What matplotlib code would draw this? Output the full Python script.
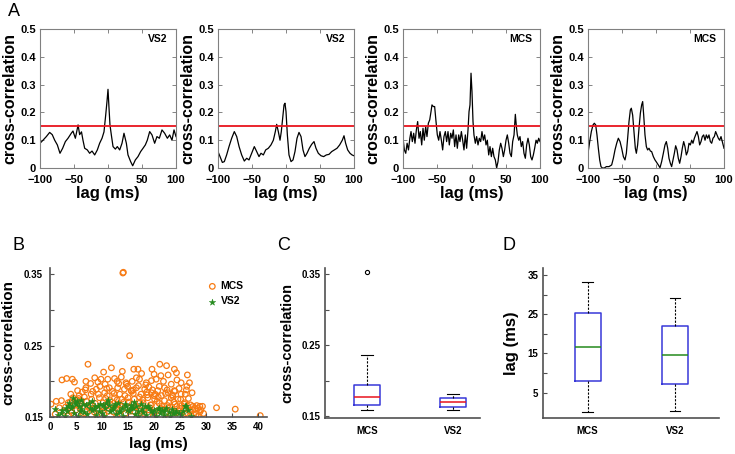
import matplotlib
matplotlib.use('Agg')
import matplotlib.pyplot as plt
import numpy as np

plt.rcParams['font.family'] = ['Liberation Sans', 'DejaVu Sans']
plt.rcParams['font.weight'] = 'bold'
plt.rcParams['axes.labelweight'] = 'bold'

# ---- data: panel A cross-correlograms ----
a1_lag = [-100, -95.6, -90.7, -85.8, -82, -78.4, -74.5, -70.6, -66.7, -62.7,
          -58.8, -54, -51.5, -48, -44, -41.7, -39, -36.8, -34.3, -30.4,
          -27, -23.5, -19.6, -15.7, -12.3, -8.8, -5.9, -3.4, -1.5, 0,
          1.5, 2.9, 4.9, 7.4, 10.8, 13.7, 17.2, 20.6, 23.5, 27,
          29.4, 33.3, 36.3, 40.2, 44.1, 48, 51.5, 54.9, 57.8, 61.3,
          64.7, 68.6, 72, 75.5, 79.4, 83.3, 87.3, 90.7, 94.1, 97.1, 100]
a1_cc = [0.089, 0.10, 0.113, 0.128, 0.12, 0.10, 0.083, 0.053, 0.071, 0.095,
         0.107, 0.125, 0.133, 0.107, 0.155, 0.12, 0.13, 0.10, 0.071, 0.065,
         0.053, 0.061, 0.047, 0.065, 0.089, 0.107, 0.13, 0.19, 0.239, 0.283,
         0.215, 0.155, 0.119, 0.077, 0.068, 0.077, 0.065, 0.089, 0.125, 0.089,
         0.047, 0.023, 0.008, 0.029, 0.041, 0.059, 0.071, 0.083, 0.10, 0.131,
         0.119, 0.089, 0.113, 0.107, 0.137, 0.125, 0.107, 0.119, 0.10, 0.137, 0.113]

a2_lag = [-100, -97, -93.6, -90.7, -87.3, -83.8, -79.9, -76, -72.5, -69,
          -65.2, -61.3, -57.8, -54.4, -50.5, -46.6, -43.1, -39.7, -36.8, -33.3,
          -29.9, -26, -22.1, -18.6, -15.7, -13.7, -11.3, -8.8, -6.9, -4.9,
          -2.9, -1.5, 0, 2, 4.4, 7.4, 10.3, 13.2, 16.2, 19.1,
          22.1, 25, 27.9, 30.9, 34.3, 37.7, 41.2, 44.1, 47.5, 51.5,
          55.4, 59.3, 63.2, 67.2, 71.1, 75, 78.9, 82.8, 85.3, 87.7,
          90.7, 94.1, 97.1, 100]
a2_cc = [0.059, 0.041, 0.02, 0.023, 0.047, 0.077, 0.107, 0.131, 0.113, 0.077,
         0.047, 0.025, 0.035, 0.029, 0.053, 0.077, 0.059, 0.041, 0.053, 0.047,
         0.065, 0.071, 0.083, 0.10, 0.131, 0.157, 0.131, 0.10, 0.131, 0.179,
         0.227, 0.233, 0.203, 0.119, 0.047, 0.023, 0.029, 0.059, 0.107, 0.128,
         0.113, 0.065, 0.041, 0.053, 0.071, 0.085, 0.095, 0.071, 0.053, 0.044,
         0.041, 0.047, 0.049, 0.059, 0.065, 0.071, 0.083, 0.10, 0.116, 0.089,
         0.065, 0.053, 0.047, 0.044]

a3_lag = [-100, -98, -96, -94, -92, -90, -88.3, -86.4, -84.4, -82.5,
          -80.5, -78.6, -76.6, -74.7, -72.7, -70.8, -68.9, -66.9, -65, -63,
          -61, -59.1, -57.7, -55.7, -53.8, -51.8, -49.9, -47.9, -46, -44,
          -42.1, -40.2, -38.2, -36.3, -34.3, -32.4, -30.4, -28.5, -26.5, -24.6,
          -22.6, -20.7, -18.7, -16.8, -14.8, -12.9, -11, -9, -7.1, -5.1,
          -3.6, -2.2, -0.7, 0.7, 2.2, 3.6, 5.6, 7.5, 9.5, 11.4,
          13.4, 15.3, 17.3, 19.2, 21.2, 23.1, 25.1, 27, 29, 30.9,
          32.8, 34.8, 36.7, 38.7, 40.6, 42.6, 44.5, 46.5, 48.4, 50.4,
          52.3, 54.3, 56.2, 58.2, 60.1, 62.1, 64, 65.5, 66.9, 68.9,
          70.8, 72.7, 74.7, 76.6, 78.6, 80.5, 82.5, 84.4, 86.4, 88.3,
          90.3, 92.2, 94.2, 96.1, 98.1, 100]
a3_cc = [0.107, 0.065, 0.053, 0.089, 0.065, 0.107, 0.131, 0.095, 0.125, 0.089,
         0.137, 0.167, 0.107, 0.131, 0.083, 0.143, 0.10, 0.149, 0.113, 0.161,
         0.173, 0.203, 0.227, 0.221, 0.221, 0.167, 0.119, 0.10, 0.131, 0.10,
         0.065, 0.113, 0.131, 0.095, 0.131, 0.083, 0.125, 0.107, 0.137, 0.077,
         0.119, 0.071, 0.119, 0.095, 0.131, 0.10, 0.065, 0.119, 0.071, 0.137,
         0.203, 0.227, 0.341, 0.275, 0.167, 0.119, 0.089, 0.113, 0.083, 0.107,
         0.095, 0.131, 0.10, 0.119, 0.083, 0.10, 0.047, 0.077, 0.041, 0.071,
         0.041, 0.029, 0.0, 0.023, 0.065, 0.089, 0.071, 0.041, 0.065, 0.10,
         0.119, 0.089, 0.053, 0.041, 0.095, 0.119, 0.193, 0.149, 0.119, 0.10,
         0.113, 0.077, 0.095, 0.053, 0.035, 0.083, 0.107, 0.083, 0.041, 0.029,
         0.047, 0.071, 0.10, 0.089, 0.107, 0.095]

a4_lag = [-100, -97.5, -95.1, -92.6, -90.7, -88.7, -86.8, -84.8, -82.8, -80.9,
          -78.9, -76, -73, -69.1, -65.2, -62.7, -60.3, -57.8, -55.4, -52.9,
          -50.5, -48, -45.6, -43.6, -41.7, -39.7, -37.7, -36.3, -34.3, -32.4,
          -30.4, -28.9, -27, -25, -23, -21.1, -19.6, -18.1, -16.2, -14.2,
          -12.3, -10.3, -8.3, -6.4, -3.9, -1.5, 1, 3.4, 5.9, 8.3,
          10.8, 13.2, 15.2, 17.2, 19.1, 21.1, 23, 25, 27, 28.9,
          30.9, 32.8, 34.8, 36.8, 38.7, 40.7, 42.6, 44.6, 46.6, 48.5,
          50.5, 52.5, 54.4, 56.4, 58.3, 60.3, 62.3, 64.2, 66.2, 68.1,
          70.1, 72.1, 74, 76, 77.9, 79.9, 81.9, 83.8, 85.8, 87.7,
          89.7, 91.7, 93.6, 95.6, 97.5, 100]
a4_cc = [0.053, 0.095, 0.131, 0.155, 0.161, 0.155, 0.119, 0.071, 0.029, 0.005,
         0.0, 0.0, 0.005, 0.005, 0.011, 0.035, 0.065, 0.089, 0.107, 0.095,
         0.071, 0.041, 0.029, 0.053, 0.107, 0.167, 0.209, 0.215, 0.19, 0.131,
         0.071, 0.053, 0.083, 0.143, 0.197, 0.227, 0.239, 0.19, 0.119, 0.077,
         0.065, 0.071, 0.061, 0.059, 0.041, 0.029, 0.02, 0.011, 0.001, 0.023,
         0.053, 0.083, 0.095, 0.071, 0.035, 0.017, 0.005, 0.029, 0.053, 0.08,
         0.065, 0.035, 0.017, 0.041, 0.071, 0.095, 0.077, 0.047, 0.059, 0.089,
         0.083, 0.10, 0.089, 0.107, 0.119, 0.131, 0.113, 0.083, 0.095, 0.113,
         0.119, 0.10, 0.119, 0.107, 0.119, 0.095, 0.089, 0.107, 0.113, 0.131,
         0.119, 0.107, 0.10, 0.113, 0.095, 0.071]

a_labels = ['VS2', 'VS2', 'MCS', 'MCS']
threshold = 0.15

# ---- data: panel B scatter (lag ms, peak cross-correlation) ----
mcs_lag = [14.0, 14.1, 15.3, 7.3, 21.1, 22.4, 11.8, 19.6, 16.1, 16.9, 23.9, 24.3, 13.9, 10.3,
           21.3, 22.7, 26.4, 17.6, 20.0,
           2.3, 3.2, 4.3, 4.7, 6.9, 8.6, 9.8, 11.1, 12.4, 13.7, 14.6, 17.2, 18.5, 19.5, 20.4,
           23.3, 25.2, 26.8, 7.8, 9.2, 10.6, 12.9, 15.8, 16.6, 21.8, 24.4,
           4.0, 4.4, 5.3, 6.9, 7.9, 8.9, 10.5, 11.4, 13.0, 13.4, 14.3, 15.6, 16.6, 17.5, 18.2,
           19.5, 20.7, 21.4, 22.7, 23.9, 25.2, 27.3, 6.2, 9.6, 12.0, 14.9, 17.0, 19.0, 22.0,
           24.8, 26.2, 5.6, 8.2, 11.0, 16.0, 18.7, 20.2, 23.5, 26.0,
           0.2, 1.2, 2.2, 6.0, 9.5, 12.4, 15.0, 16.2, 18.8, 20.1, 22.0, 23.3, 24.6, 25.9, 26.5,
           27.5, 28.8, 29.3, 28.2, 3.5, 4.8, 7.0, 8.0, 10.2, 11.5, 13.0, 14.2, 15.8, 17.3,
           19.5, 21.0, 22.6, 24.0, 25.3, 27.0, 5.5, 10.8, 13.8, 17.8, 20.8, 23.8, 27.8, 32.0,
           35.6,
           1.0, 1.8, 2.8, 4.2, 5.0, 6.4, 7.6, 8.5, 9.4, 10.4, 11.3, 12.2, 13.1, 14.5, 15.4,
           16.3, 17.1, 18.1, 19.0, 20.0, 21.3, 22.3, 23.2, 24.2, 25.0, 26.0, 26.8, 27.6, 28.1,
           28.8, 29.5, 40.4, 3.6, 6.0, 9.0, 12.8, 16.8, 19.8, 23.0, 25.6, 27.2,
           3.0, 3.9, 4.6, 5.2, 5.9, 6.6, 7.3, 8.0, 8.7, 9.3, 10.0, 10.7, 11.6, 12.3, 12.9,
           13.6, 14.4, 15.1, 15.7, 16.5, 17.2, 17.9, 18.6, 19.3, 20.0, 20.6, 21.5, 22.2, 22.9,
           23.6, 24.4, 25.1, 25.8, 26.6, 27.4, 28.4, 29.0,
           4.1, 5.7, 7.1, 8.3, 9.9, 11.2, 12.6, 13.9, 15.3, 16.7, 18.0, 19.2, 20.4, 21.7, 23.1,
           24.6, 25.8, 27.0, 28.5, 6.8, 10.9, 14.7, 18.4, 22.5, 26.3, 13.2, 16.0, 19.7, 21.0,
           24.0]
mcs_cc = [0.352, 0.353, 0.236, 0.224, 0.224, 0.222, 0.219, 0.217, 0.217, 0.217, 0.217, 0.212,
          0.214, 0.213, 0.208, 0.209, 0.209, 0.211, 0.210,
          0.202, 0.204, 0.203, 0.199, 0.200, 0.205, 0.203, 0.203, 0.204, 0.206, 0.198, 0.203,
          0.198, 0.201, 0.203, 0.196, 0.198, 0.198, 0.197, 0.199, 0.196, 0.200, 0.200, 0.205,
          0.200, 0.202,
          0.182, 0.177, 0.187, 0.191, 0.182, 0.189, 0.184, 0.191, 0.191, 0.182, 0.189, 0.187,
          0.191, 0.182, 0.189, 0.184, 0.187, 0.180, 0.184, 0.187, 0.182, 0.184, 0.185, 0.193,
          0.186, 0.193, 0.194, 0.192, 0.191, 0.190, 0.188, 0.180, 0.186, 0.180, 0.183, 0.181,
          0.182, 0.181, 0.182,
          0.168, 0.172, 0.173, 0.173, 0.177, 0.177, 0.177, 0.175, 0.177, 0.175, 0.173, 0.177,
          0.175, 0.170, 0.165, 0.165, 0.165, 0.165, 0.166, 0.170, 0.168, 0.172, 0.168, 0.170,
          0.173, 0.168, 0.171, 0.168, 0.170, 0.167, 0.169, 0.166, 0.168, 0.166, 0.167, 0.176,
          0.166, 0.175, 0.174, 0.178, 0.171, 0.162, 0.163, 0.161,
          0.154, 0.163, 0.158, 0.156, 0.160, 0.155, 0.162, 0.157, 0.160, 0.155, 0.162, 0.157,
          0.160, 0.155, 0.163, 0.157, 0.161, 0.155, 0.160, 0.156, 0.162, 0.155, 0.160, 0.156,
          0.162, 0.155, 0.159, 0.154, 0.154, 0.157, 0.155, 0.152, 0.152, 0.151, 0.152, 0.151,
          0.152, 0.151, 0.152, 0.151, 0.151,
          0.164, 0.171, 0.166, 0.174, 0.168, 0.178, 0.165, 0.175, 0.169, 0.182, 0.165, 0.176,
          0.168, 0.183, 0.174, 0.166, 0.180, 0.171, 0.186, 0.165, 0.178, 0.170, 0.185, 0.167,
          0.180, 0.172, 0.165, 0.183, 0.170, 0.179, 0.165, 0.175, 0.168, 0.176, 0.160, 0.162,
          0.160,
          0.159, 0.163, 0.158, 0.161, 0.164, 0.158, 0.163, 0.161, 0.158, 0.164, 0.159, 0.163,
          0.158, 0.161, 0.164, 0.159, 0.161, 0.158, 0.151, 0.188, 0.190, 0.196, 0.195, 0.188,
          0.193, 0.197, 0.188, 0.188, 0.193, 0.186]

vs2_lag = [1.0, 2.1, 3.7, 4.0, 5.0, 6.0, 7.6, 9.2, 10.8, 12.1, 13.0, 14.6, 15.9, 17.5, 19.1,
           20.7, 22.3, 24.3, 26.0, 4.5, 6.0, 11.1, 26.2,
           1.5, 2.8, 3.3, 4.6, 5.4, 6.6, 7.2, 8.1, 8.8, 9.9, 10.4, 11.6, 12.6, 13.5, 14.1,
           15.2, 16.4, 16.9, 17.9, 18.5, 19.7, 20.3, 21.2, 21.9, 23.0, 23.7, 25.1, 27.0,
           3.0, 4.2, 5.8, 7.0, 8.4, 9.5, 10.1, 11.9, 13.3, 14.8, 15.6, 17.0, 18.2, 19.4, 21.5,
           22.8, 24.8, 5.1, 8.0, 12.5, 16.1,
           2.4, 3.4, 4.8, 5.6, 6.3, 7.4, 8.6, 9.7, 10.6, 11.4, 12.3, 13.8, 14.4, 15.5, 16.6,
           17.7, 18.9, 20.0, 20.9, 22.0, 23.4, 24.1, 25.5, 26.6]
vs2_cc = [0.161, 0.156, 0.170, 0.163, 0.168, 0.161, 0.163, 0.165, 0.170, 0.163, 0.170, 0.165,
          0.163, 0.168, 0.163, 0.161, 0.163, 0.158, 0.165, 0.176, 0.174, 0.174, 0.166,
          0.153, 0.152, 0.158, 0.155, 0.152, 0.157, 0.154, 0.160, 0.153, 0.156, 0.152, 0.158,
          0.154, 0.157, 0.152, 0.159, 0.154, 0.152, 0.157, 0.153, 0.155, 0.152, 0.156, 0.153,
          0.152, 0.155, 0.153, 0.152,
          0.163, 0.166, 0.158, 0.167, 0.161, 0.158, 0.167, 0.160, 0.158, 0.160, 0.167, 0.158,
          0.166, 0.158, 0.160, 0.157, 0.156, 0.172, 0.172, 0.168, 0.171,
          0.160, 0.165, 0.171, 0.165, 0.168, 0.170, 0.166, 0.168, 0.162, 0.167, 0.165, 0.163,
          0.168, 0.162, 0.165, 0.161, 0.166, 0.160, 0.163, 0.158, 0.161, 0.155, 0.158, 0.160]

# ---- data: panels C and D box summaries ----
groups = ['MCS', 'VS2']
c_med = [0.176, 0.169]
c_q1 = [0.166, 0.163]
c_q3 = [0.194, 0.175]
c_lo = [0.159, 0.158]
c_hi = [0.236, 0.181]
c_fliers = [[0.353], []]

d_med = [16.7, 14.6]
d_q1 = [8.1, 7.1]
d_q3 = [25.3, 22.0]
d_lo = [0.15, 0.4]
d_hi = [33.3, 29.1]

W, H = 735, 454
fig = plt.figure(figsize=(W / 100, H / 100), dpi=100)


def px_axes(l, t, r, b):
    return fig.add_axes([l / W, 1 - b / H, (r - l) / W, (b - t) / H])


RED = '#e8141e'
ORANGE = '#f77b14'
GREEN = '#248a1c'
BLUE = '#3838d8'

# ---- panel A ----
a_boxes = [(40, 29, 176, 168), (218, 29, 354, 168), (403, 29, 540, 168), (588, 29, 724, 168)]
a_data = [(a1_lag, a1_cc), (a2_lag, a2_cc), (a3_lag, a3_cc), (a4_lag, a4_cc)]
for box, (lag, cc), lab in zip(a_boxes, a_data, a_labels):
    ax = px_axes(*box)
    ax.plot(lag, cc, color='black', lw=0.9)
    ax.axhline(threshold, color=RED, lw=1.3)
    ax.set_xlim(-100, 100)
    ax.set_ylim(0, 0.5)
    ax.set_xticks([-100, -50, 0, 50, 100])
    ax.set_yticks([0, 0.1, 0.2, 0.3, 0.4, 0.5])
    ax.set_yticklabels(['0', '0.1', '0.2', '0.3', '0.4', '0.5'])
    ax.tick_params(direction='in', top=True, right=True, length=3, width=0.6,
                   labelsize=8, colors='#707070', labelcolor='black', pad=3)
    ax.tick_params(axis='x', pad=5)
    for s in ax.spines.values():
        s.set_color('#808080')
        s.set_linewidth(0.8)
    ax.set_xlabel('lag (ms)', fontsize=12, labelpad=1)
    ax.set_ylabel('cross-correlation', fontsize=11.5, labelpad=2)
    ax.text(0.94, 0.93, lab, transform=ax.transAxes, ha='right', va='center', fontsize=7.5)

fig.text(8 / W, 1 - 11 / H, 'A', fontsize=13, fontweight='normal', va='center')
fig.text(12 / W, 1 - 246 / H, 'B', fontsize=13, fontweight='normal', va='center')
fig.text(277 / W, 1 - 246 / H, 'C', fontsize=13, fontweight='normal', va='center')
fig.text(502 / W, 1 - 246 / H, 'D', fontsize=13, fontweight='normal', va='center')


def bottom_style(ax):
    for side in ('top', 'right'):
        ax.spines[side].set_visible(False)
    for side in ('left', 'bottom'):
        ax.spines[side].set_color('#505050')
        ax.spines[side].set_linewidth(1.2)
    ax.tick_params(direction='in', length=3, width=0.8, labelsize=7, colors='#505050',
                   labelcolor='black')


# ---- panel B ----
ax = px_axes(50, 268, 267, 417)
ax.scatter(mcs_lag, mcs_cc, s=16, facecolors='none', edgecolors=ORANGE, linewidths=0.9,
           label='MCS')
ax.scatter(vs2_lag, vs2_cc, s=24, marker='*', color=GREEN, linewidths=0.3, label='VS2')
ax.set_xlim(0, 41.7)
ax.set_ylim(0.15, 0.359)
ax.set_xticks(range(0, 45, 5))
ax.set_yticks([0.15, 0.2, 0.25, 0.3, 0.35])
ax.set_yticklabels(['0.15', '', '0.25', '', '0.35'])
bottom_style(ax)
ax.tick_params(axis='y', pad=5)
ax.set_xlabel('lag (ms)', fontsize=11, labelpad=4)
ax.set_ylabel('cross-correlation', fontsize=11, labelpad=6)
ax.legend(loc='upper left', bbox_to_anchor=(0.70, 0.94), frameon=False, fontsize=7.5,
          handletextpad=0.2, handlelength=1.2, labelspacing=0.5, borderaxespad=0)

# ---- panels C and D ----
def box_stats(med, q1, q3, lo, hi, fliers=None):
    out = []
    for i in range(len(med)):
        out.append(dict(med=med[i], q1=q1[i], q3=q3[i], whislo=lo[i], whishi=hi[i],
                        fliers=fliers[i] if fliers else [], label=groups[i]))
    return out


whisk = dict(color='black', lw=0.8, linestyle=(0, (2, 1.3)))

ax = px_axes(325, 268, 480, 418)
ax.bxp(box_stats(c_med, c_q1, c_q3, c_lo, c_hi, c_fliers), widths=0.3, capwidths=0.14,
       boxprops=dict(color=BLUE, lw=1.1), medianprops=dict(color=RED, lw=1.1),
       whiskerprops=whisk, capprops=dict(color='black', lw=0.8),
       flierprops=dict(marker='o', markersize=3, markerfacecolor='none',
                       markeredgecolor='black', markeredgewidth=0.8))
ax.set_xlim(0.51, 2.31)
ax.set_ylim(0.147, 0.359)
ax.set_yticks([0.15, 0.2, 0.25, 0.3, 0.35])
ax.set_yticklabels(['0.15', '', '0.25', '', '0.35'])
bottom_style(ax)
ax.tick_params(axis='x', length=0, pad=6)
ax.set_ylabel('cross-correlation', fontsize=10.5, labelpad=5)

ax = px_axes(543, 268, 719, 418)
ax.bxp(box_stats(d_med, d_q1, d_q3, d_lo, d_hi), widths=0.3, capwidths=0.12,
       boxprops=dict(color=BLUE, lw=1.1), medianprops=dict(color=GREEN, lw=1.1),
       whiskerprops=whisk, capprops=dict(color='black', lw=0.8), showfliers=False)
ax.set_xlim(0.49, 2.5)
ax.set_ylim(-1.45, 36.8)
ax.set_yticks([5, 10, 15, 20, 25, 30, 35])
ax.set_yticklabels(['5', '', '15', '', '25', '', '35'])
bottom_style(ax)
ax.tick_params(axis='x', length=0, pad=6)
ax.set_ylabel('lag (ms)', fontsize=12, labelpad=6)

fig.savefig('out.png', dpi=100)
